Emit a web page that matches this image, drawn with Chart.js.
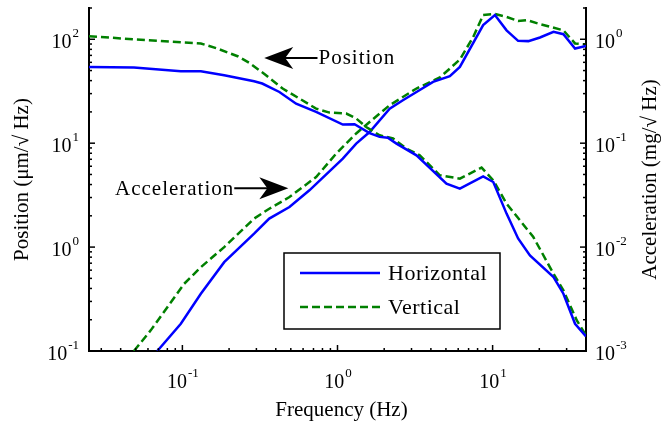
<!DOCTYPE html>
<html>
<head>
<meta charset="utf-8">
<script src="https://cdn.jsdelivr.net/npm/chart.js@4.4.1/dist/chart.umd.min.js"></script>
<style>
  html, body { margin: 0; padding: 0; background: #fff; }
  #wrap { width: 662px; height: 424px; }
</style>
</head>
<body>
<div id="wrap"><canvas id="myChart"></canvas></div>
<script>
// position spectra (um/sqrt(Hz)), left axis
const posHorFreq = [0.025, 0.0487, 0.0977, 0.1315, 0.186, 0.290, 0.327, 0.422, 0.541, 0.728, 1.082, 1.288, 1.61, 1.87, 2.11, 2.40, 3.23, 5.04, 6.15, 8.69, 10.1, 12.3, 14.6, 17.4, 24.7, 28.6, 34.0, 40];
const posHor     = [54.2, 53.5, 49.3, 49.3, 45.1, 39.5, 37.5, 31.1, 24.0, 20.0, 15.1, 15.2, 12.5, 11.5, 11.3, 9.9, 7.64, 4.08, 3.65, 4.80, 4.23, 2.10, 1.21, 0.832, 0.514, 0.356, 0.183, 0.138];

const posVerFreq = [0.025, 0.0487, 0.1315, 0.168, 0.227, 0.270, 0.346, 0.443, 0.568, 0.728, 0.888, 1.138, 1.32, 1.53, 1.87, 2.28, 2.78, 3.39, 4.57, 6.15, 8.49, 10.1, 12.3, 18.3, 24.7, 28.6, 34.9, 40];
const posVer     = [107, 100, 91.2, 81.5, 68.7, 59.3, 45.1, 33.6, 26.9, 21.5, 19.7, 19.3, 17.3, 14.3, 11.9, 11.1, 8.87, 7.64, 4.91, 4.56, 5.82, 4.39, 2.62, 1.25, 0.555, 0.383, 0.197, 0.141];

// acceleration spectra (mg/sqrt(Hz)), right axis
const accHorFreq = [0.0689, 0.0977, 0.1315, 0.186, 0.290, 0.363, 0.490, 0.659, 1.082, 1.32, 1.61, 2.17, 2.64, 3.23, 4.13, 5.30, 6.15, 8.69, 10.35, 12.3, 14.6, 17.0, 20.2, 24.7, 28.6, 34.0, 40];
const accHor     = [0.001, 0.00183, 0.00356, 0.00716, 0.01346, 0.0188, 0.0243, 0.0352, 0.0711, 0.0991, 0.128, 0.215, 0.259, 0.311, 0.389, 0.442, 0.542, 1.37, 1.71, 1.22, 0.966, 0.960, 1.04, 1.18, 1.12, 0.815, 0.863];

const accVerFreq = [0.0487, 0.0625, 0.080, 0.1026, 0.1315, 0.186, 0.290, 0.363, 0.490, 0.728, 0.981, 1.32, 1.61, 2.17, 3.23, 4.57, 6.15, 7.49, 8.69, 10.35, 12.3, 14.6, 16.6, 20.2, 28.6, 34.0, 40];
const accVer     = [0.001, 0.00158, 0.00264, 0.00443, 0.00641, 0.0100, 0.0188, 0.0234, 0.0303, 0.0472, 0.0794, 0.124, 0.160, 0.232, 0.336, 0.429, 0.638, 1.05, 1.71, 1.75, 1.64, 1.50, 1.53, 1.40, 1.22, 0.912, 0.891];

const legendNames = ['Horizontal', 'Vertical'];
// annotation anchors in data units: [text, freq at tail, freq at tip, y (position axis)]
const notes = [
  ['Position', 0.743, 0.337, 66.2],
  ['Acceleration', 0.216, 0.482, 3.68]
];

const SERIF = "'Liberation Serif', 'Times New Roman', serif";
const BLUE = '#0000ff';
const GREEN = '#008000';
const DASH = [8, 4];

function pts(xs, ys) {
  return xs.map(function (x, i) { return { x: x, y: ys[i] }; });
}

function lineSet(label, data, color, axis, dashed) {
  return {
    label: label,
    data: data,
    yAxisID: axis,
    borderColor: color,
    borderWidth: 2.5,
    borderDash: dashed ? DASH : [],
    pointRadius: 0,
    tension: 0,
    fill: false
  };
}

function supLabel(ctx, exp, x, y, align) {
  // draws 10^exp, x is anchor according to align ('right' | 'left' | 'center')
  const base = '10', sup = String(exp);
  ctx.font = '20px ' + SERIF;
  const wb = ctx.measureText(base).width;
  ctx.font = '13px ' + SERIF;
  const ws = ctx.measureText(sup).width;
  let x0 = x;
  if (align === 'right') x0 = x - wb - ws;
  if (align === 'center') x0 = x - (wb + ws) / 2;
  ctx.textAlign = 'left';
  ctx.textBaseline = 'alphabetic';
  ctx.font = '20px ' + SERIF;
  ctx.fillText(base, x0, y);
  ctx.font = '13px ' + SERIF;
  ctx.fillText(sup, x0 + wb + 1, y - 11);
}

function logTicks(min, max) {
  const out = [];
  for (let d = Math.floor(Math.log10(min)); d <= Math.ceil(Math.log10(max)); d++) {
    for (let m = 1; m <= 9; m++) {
      const v = m * Math.pow(10, d);
      if (v >= min * 0.999 && v <= max * 1.001) out.push({ v: v, major: m === 1, exp: d });
    }
  }
  return out;
}

const decor = {
  id: 'decor',
  afterDraw: function (chart) {
    const ctx = chart.ctx;
    const a = chart.chartArea;
    const sx = chart.scales.x, sy = chart.scales.y, sy2 = chart.scales.y2;
    ctx.save();
    ctx.fillStyle = '#000';
    ctx.strokeStyle = '#000';
    ctx.lineWidth = 1.5;

    // tick marks, pointing inward
    logTicks(sx.min, sx.max).forEach(function (t) {
      const px = sx.getPixelForValue(t.v);
      const len = t.major ? 6 : 3;
      ctx.beginPath(); ctx.moveTo(px, a.bottom); ctx.lineTo(px, a.bottom - len); ctx.stroke();
      if (t.major) supLabel(ctx, t.exp, px, a.bottom + 37, 'center');
    });
    logTicks(sy.min, sy.max).forEach(function (t) {
      const py = sy.getPixelForValue(t.v);
      const len = t.major ? 6 : 3;
      ctx.beginPath(); ctx.moveTo(a.left, py); ctx.lineTo(a.left + len, py); ctx.stroke();
      if (t.major) supLabel(ctx, t.exp, a.left - 11, py + 9, 'right');
    });
    logTicks(sy2.min, sy2.max).forEach(function (t) {
      const py = sy2.getPixelForValue(t.v);
      const len = t.major ? 6 : 3;
      ctx.beginPath(); ctx.moveTo(a.right, py); ctx.lineTo(a.right - len, py); ctx.stroke();
      if (t.major) supLabel(ctx, t.exp, a.right + 9, py + 9, 'left');
    });

    // axis titles
    const midY = (a.top + a.bottom) / 2;
    ctx.font = '21px ' + SERIF;
    ctx.textAlign = 'center';
    ctx.textBaseline = 'middle';
    ctx.fillText('Frequency (Hz)', (a.left + a.right) / 2 + 4, a.bottom + 59);
    ctx.save();
    ctx.translate(22, midY);
    ctx.rotate(-Math.PI / 2);
    ctx.fillText('Position (\u03bcm/\u221a Hz)', 0, 0);
    ctx.restore();
    ctx.save();
    ctx.translate(650, midY);
    ctx.rotate(-Math.PI / 2);
    ctx.fillText('Acceleration (mg/\u221a Hz)', 0, 0);
    ctx.restore();

    // annotations with arrows
    notes.forEach(function (n) {
      const tail = sx.getPixelForValue(n[1]);
      const tip = sx.getPixelForValue(n[2]);
      const y = sy.getPixelForValue(n[3]);
      const dir = tip > tail ? 1 : -1;
      ctx.font = '21px ' + SERIF;
      ctx.letterSpacing = '1px';
      ctx.textBaseline = 'middle';
      ctx.textAlign = dir > 0 ? 'right' : 'left';
      ctx.fillText(n[0], tail + (dir > 0 ? 0 : 1), y + 1);
      ctx.letterSpacing = '0px';
      ctx.lineWidth = 2;
      ctx.beginPath(); ctx.moveTo(tail, y); ctx.lineTo(tip - dir * 20, y); ctx.stroke();
      ctx.beginPath();
      ctx.moveTo(tip, y);
      ctx.lineTo(tip - dir * 29, y - 11);
      ctx.lineTo(tip - dir * 21, y);
      ctx.lineTo(tip - dir * 29, y + 11);
      ctx.closePath();
      ctx.fill();
    });

    // legend box
    const lx = 284, ly = 253, lw = 216, lh = 76;
    ctx.fillStyle = '#fff';
    ctx.fillRect(lx, ly, lw, lh);
    ctx.lineWidth = 1.5;
    ctx.strokeStyle = '#000';
    ctx.strokeRect(lx, ly, lw, lh);
    const entries = [[legendNames[0], BLUE, []], [legendNames[1], GREEN, DASH]];
    entries.forEach(function (e, i) {
      const yy = ly + 20 + i * 34;
      ctx.strokeStyle = e[1];
      ctx.lineWidth = 2.5;
      ctx.setLineDash(e[2]);
      ctx.beginPath(); ctx.moveTo(lx + 16, yy); ctx.lineTo(lx + 96, yy); ctx.stroke();
      ctx.setLineDash([]);
      ctx.fillStyle = '#000';
      ctx.font = '22px ' + SERIF;
      ctx.letterSpacing = '0.5px';
      ctx.textAlign = 'left';
      ctx.textBaseline = 'middle';
      ctx.fillText(e[0], lx + 104, yy + 1);
      ctx.letterSpacing = '0px';
    });
    ctx.restore();
  }
};

const axisOpts = function (pos, min, max) {
  return {
    type: 'logarithmic',
    position: pos,
    min: min,
    max: max,
    ticks: { display: false },
    grid: { display: false, drawTicks: false },
    border: { display: true, color: '#000', width: 2 }
  };
};

new Chart(document.getElementById('myChart'), {
  type: 'line',
  data: {
    datasets: [
      lineSet('Horizontal', pts(posHorFreq, posHor), BLUE, 'y', false),
      lineSet('Vertical', pts(posVerFreq, posVer), GREEN, 'y', true),
      lineSet('Horizontal', pts(accHorFreq, accHor), BLUE, 'y2', false),
      lineSet('Vertical', pts(accVerFreq, accVer), GREEN, 'y2', true)
    ]
  },
  options: {
    responsive: true,
    maintainAspectRatio: false,
    animation: false,
    devicePixelRatio: 1,
    layout: { padding: { left: 89, right: 76, top: 8, bottom: 73 } },
    plugins: { legend: { display: false }, tooltip: { enabled: false } },
    scales: {
      x: axisOpts('bottom', 0.025, 40),
      y: axisOpts('left', 0.1, 200),
      y2: axisOpts('right', 0.001, 2)
    }
  },
  plugins: [decor]
});
</script>
</body>
</html>
